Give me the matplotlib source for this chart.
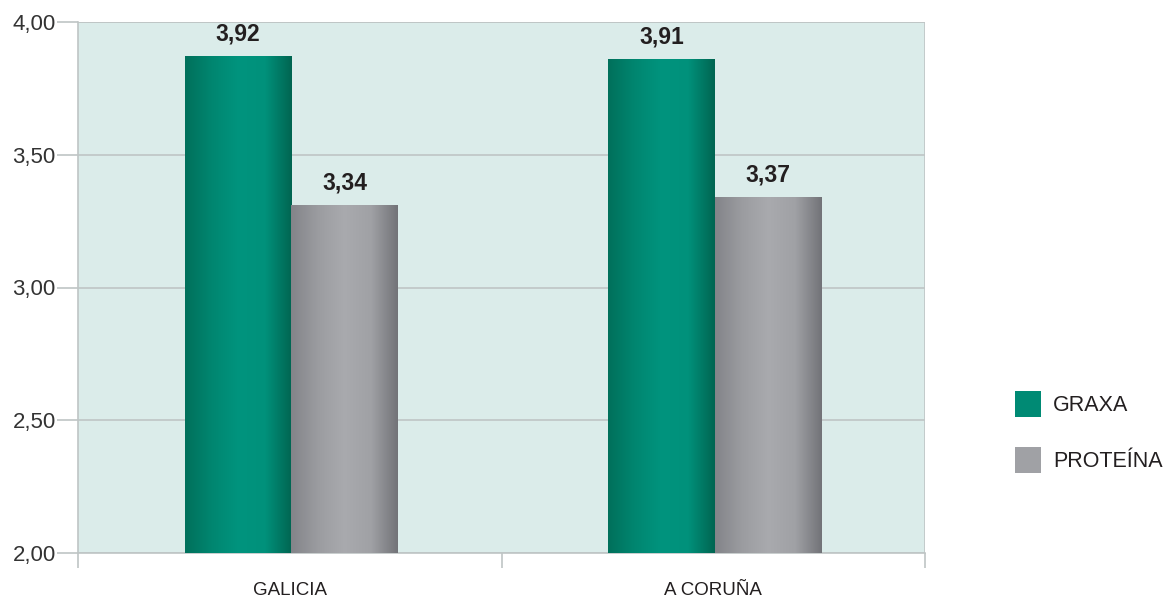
import numpy as np
import matplotlib
matplotlib.use("Agg")
import matplotlib.pyplot as plt
from matplotlib.colors import LinearSegmentedColormap
from matplotlib.ticker import FuncFormatter, FixedLocator

categories = ["GALICIA", "A CORUÑA"]
series = ["GRAXA", "PROTEÍNA"]
# bar heights as drawn in the picture, labels as printed above them
graxa_bars = [3.87, 3.86]
proteina_bars = [3.31, 3.34]
graxa_labels = [3.92, 3.91]
proteina_labels = [3.34, 3.37]

font = ["Liberation Sans", "DejaVu Sans"]
plt.rcParams["font.family"] = font
green_cmap = LinearSegmentedColormap.from_list(
    "g", ["#00705b", "#008670", "#00947e", "#00917b", "#006551"])
gray_cmap = LinearSegmentedColormap.from_list(
    "s", ["#838489", "#9b9ca0", "#a9aaae", "#a0a1a5", "#727378"])
txt = "#231f20"
line = "#bfc5c5"

fig = plt.figure(figsize=(11.73, 6.02), dpi=100)
ax = fig.add_axes([78 / 1173, 49 / 602, 847 / 1173, 531 / 602])
ax.set_facecolor("#dbecea")

x = np.arange(len(categories))
w = 0.252
b1 = ax.bar(x - w / 2 + 0.004, np.array(graxa_bars) - 2, w, bottom=2, color="#008a74", label=series[0])
b2 = ax.bar(x + w / 2 + 0.004, np.array(proteina_bars) - 2, w, bottom=2, color="#a0a1a5", label=series[1])

grad = np.linspace(0, 1, 256).reshape(1, -1)
for bars, cmap in ((b1, green_cmap), (b2, gray_cmap)):
    for p in bars:
        x0, y0 = p.get_x(), p.get_y()
        ax.imshow(grad, cmap=cmap, aspect="auto", zorder=3,
                  extent=[x0, x0 + p.get_width(), y0, y0 + p.get_height()])

for bars, labels in ((b1, graxa_labels), (b2, proteina_labels)):
    for p, v in zip(bars, labels):
        ax.annotate(f"{v:.2f}".replace(".", ","),
                    (p.get_x() + p.get_width() / 2, p.get_y() + p.get_height()),
                    xytext=(0, 8), textcoords="offset points", ha="center", va="bottom",
                    fontsize=16.5, fontweight="bold", color=txt)

ax.set_xlim(-0.5, 1.5)
ax.set_ylim(2, 4)
ax.set_yticks([2.0, 2.5, 3.0, 3.5, 4.0])
ax.yaxis.set_major_formatter(FuncFormatter(lambda v, _: f"{v:.2f}".replace(".", ",")))
ax.grid(axis="y", color=line, linewidth=1.2)
ax.set_axisbelow(True)
ax.tick_params(axis="y", length=15, width=1.2, color=line, labelsize=16,
               labelcolor="#333333", pad=1)

ax.set_xticks(x)
ax.set_xticklabels(categories, fontsize=13.5, color=txt)
ax.tick_params(axis="x", which="major", length=0, pad=21)
ax.xaxis.set_minor_locator(FixedLocator([-0.5, 0.5, 1.5]))
ax.tick_params(axis="x", which="minor", length=11, width=1.2, color=line)

for s in ("top", "right"):
    ax.spines[s].set_visible(False)
for s in ("left", "bottom"):
    ax.spines[s].set_color(line)
    ax.spines[s].set_linewidth(1.2)
ax.axvline(1.5, color=line, linewidth=1.2)
ax.axhline(4.0, color=line, linewidth=1.2)

fig.legend(handles=[b1, b2], labels=series, loc="center left",
           bbox_to_anchor=(996 / 1173, 1 - 432 / 602), frameon=False,
           prop={"size": 15.5}, handlelength=1.2, handleheight=1.5,
           labelspacing=1.35, handletextpad=0.55, labelcolor=txt)

fig.savefig("out.png", dpi=100)
